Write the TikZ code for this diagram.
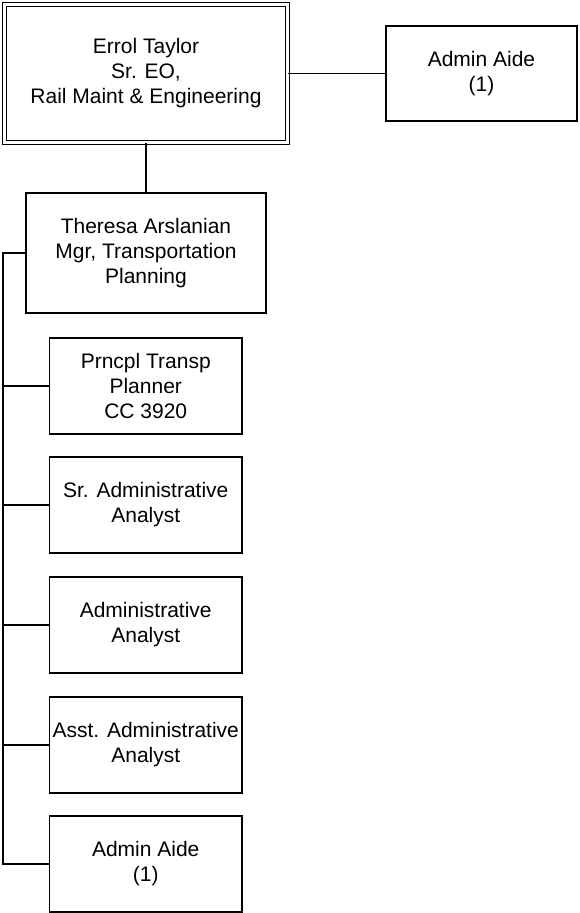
\documentclass[tikz,border=0pt]{standalone}
\usepackage{fontspec}
\setmainfont{Liberation Sans}
\usetikzlibrary{calc}

\begin{document}
\begin{tikzpicture}[x=1pt,y=1pt,
    box/.style={draw,line width=1.2pt,align=center,inner sep=1pt,
        font=\fontsize{21}{25}\selectfont},
    chief/.style={box,double,double distance=2.4pt,line width=1.2pt},
    link/.style={line width=1.2pt}]
    \useasboundingbox (0,0) rectangle (579,-913);
    \node[chief,minimum width=283,minimum height=138] (N0) at (146,-73.5) {Errol Taylor\\Sr. EO,\\Rail Maint \& Engineering};
    \node[box,minimum width=191,minimum height=95] (N1) at (481.5,-73.5) {Admin Aide\\(1)};
    \node[box,minimum width=240,minimum height=120] (N2) at (146,-253) {Theresa Arslanian\\Mgr, Transportation\\Planning};
    \node[box,minimum width=192.5,minimum height=96] (N3) at (145.75,-386) {Prncpl Transp\\Planner\\CC 3920};
    \node[box,minimum width=192.5,minimum height=96] (N4) at (145.75,-505) {Sr. Administrative\\Analyst};
    \node[box,minimum width=192.5,minimum height=96] (N5) at (145.75,-625) {Administrative\\Analyst};
    \node[box,minimum width=192.5,minimum height=96] (N6) at (145.75,-745) {Asst. Administrative\\Analyst};
    \node[box,minimum width=192.5,minimum height=96] (N7) at (145.75,-864) {Admin Aide\\(1)};
    \coordinate (S) at (3,-253);
    \draw[link] (N0.east) -- (N1.west);
    \draw[link] (N0.south) -- (N2.north);
    \draw[link] (N2.west) -- (S) |- (N7.west);
    \draw[link] (S |- N3.west) -- (N3.west);
    \draw[link] (S |- N4.west) -- (N4.west);
    \draw[link] (S |- N5.west) -- (N5.west);
    \draw[link] (S |- N6.west) -- (N6.west);
\end{tikzpicture}
\end{document}
